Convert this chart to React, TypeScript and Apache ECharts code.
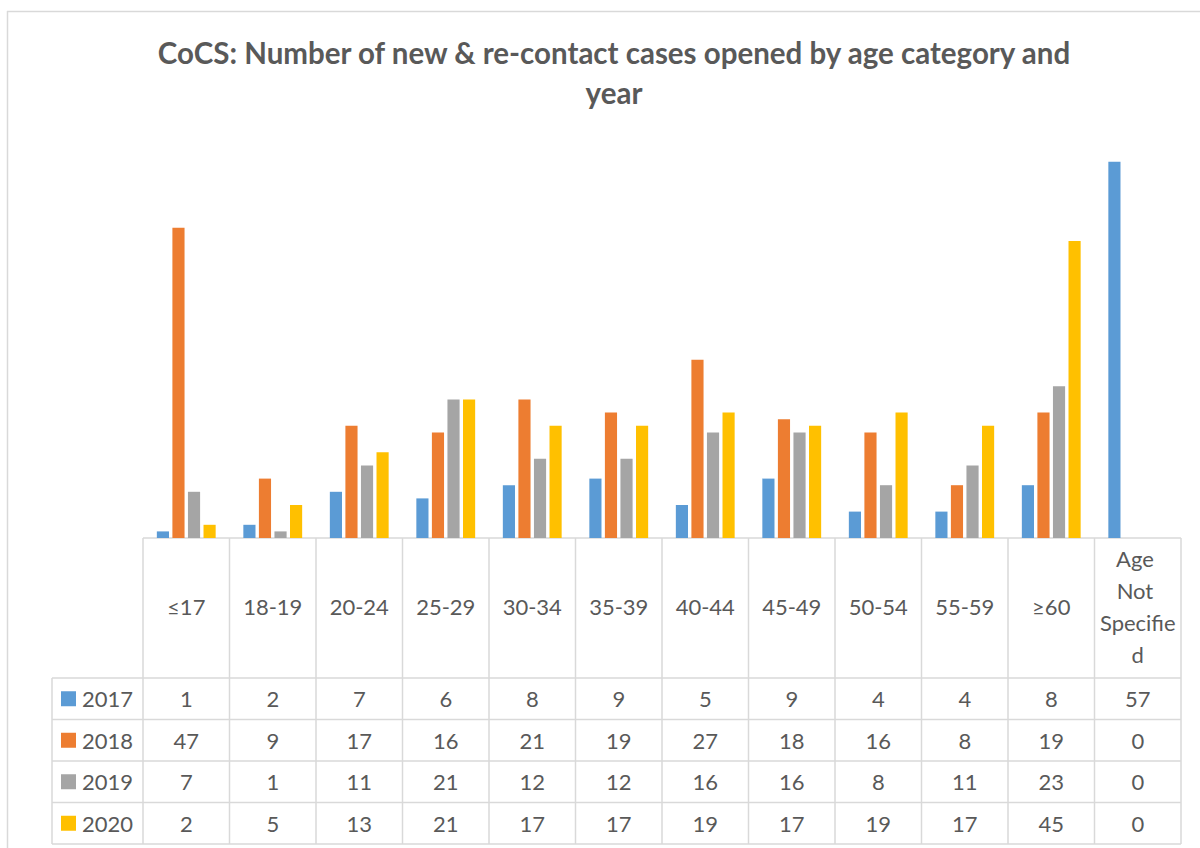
import React, { useEffect, useRef } from "react";
import * as echarts from "echarts";

const categories = ["≤17", "18-19", "20-24", "25-29", "30-34", "35-39", "40-44", "45-49", "50-54", "55-59", "≥60", "Age Not Specified"];
const seriesNames = ["2017", "2018", "2019", "2020"];
const v2017 = [1, 2, 7, 6, 8, 9, 5, 9, 4, 4, 8, 57];
const v2018 = [47, 9, 17, 16, 21, 19, 27, 18, 16, 8, 19, 0];
const v2019 = [7, 1, 11, 21, 12, 12, 16, 16, 8, 11, 23, 0];
const v2020 = [2, 5, 13, 21, 17, 17, 19, 17, 19, 17, 45, 0];
const colors = ["#5b9bd5", "#ed7d31", "#a5a5a5", "#ffc000"];
const titleText = "CoCS: Number of new & re-contact cases opened by age category and\nyear";

const FONT = "Lato, 'Open Sans', sans-serif";
const TXT = "#595959";
const BORDER = "#d9d9d9";

export default function App() {
  const ref = useRef<HTMLDivElement>(null);
  useEffect(() => {
    if (!ref.current) return;
    const chart = echarts.init(ref.current, null, { renderer: "svg" });
    const values = [v2017, v2018, v2019, v2020];

    const plotLeft = 143;
    const plotRight = 1181;
    const baseY = 538;
    const headerBottom = 678;
    const rowH = 41.5;
    const legendLeft = 52;
    const colW = (plotRight - plotLeft) / categories.length;
    const tableBottom = headerBottom + rowH * 4;

    const g: any[] = [];
    const ln = (x1: number, y1: number, x2: number, y2: number) =>
      g.push({ type: "line", silent: true, shape: { x1, y1, x2, y2 }, style: { stroke: BORDER, lineWidth: 1.5 } });

    // outer chart border
    ln(7.5, 11, 7.5, 860);
    ln(7, 11.5, 1210, 11.5);

    // table lines
    ln(plotLeft, baseY, plotRight, baseY);
    for (let r = 0; r <= 4; r++) {
      const y = headerBottom + r * rowH;
      ln(legendLeft, y, plotRight, y);
    }
    for (let c = 0; c <= categories.length; c++) {
      const x = plotLeft + c * colW;
      ln(x, baseY, x, tableBottom);
    }
    ln(legendLeft, headerBottom, legendLeft, tableBottom);

    // header
    categories.forEach((cat, c) => {
      g.push({
        type: "text",
        silent: true,
        x: plotLeft + c * colW + colW / 2,
        y: (baseY + headerBottom) / 2 - 2,
        style: {
          text: cat,
          fill: TXT,
          font: `22px ${FONT}`,
          align: "center",
          verticalAlign: "middle",
          width: 78,
          overflow: "break",
          lineHeight: 32,
        },
      });
    });

    // rows
    seriesNames.forEach((name, r) => {
      const cy = headerBottom + r * rowH + rowH / 2;
      g.push({ type: "rect", silent: true, shape: { x: 61, y: cy - 7.5, width: 15, height: 15 }, style: { fill: colors[r] } });
      g.push({
        type: "text",
        silent: true,
        x: 82,
        y: cy,
        style: { text: name, fill: TXT, font: `22px ${FONT}`, align: "left", verticalAlign: "middle" },
      });
      values[r].forEach((v, c) => {
        g.push({
          type: "text",
          silent: true,
          x: plotLeft + c * colW + colW / 2,
          y: cy,
          style: { text: String(v), fill: TXT, font: `22px ${FONT}`, align: "center", verticalAlign: "middle" },
        });
      });
    });

    chart.setOption({
      animation: false,
      backgroundColor: "#ffffff",
      title: {
        text: titleText,
        left: 609,
        textAlign: "center",
        top: 27,
        textStyle: { color: TXT, fontSize: 29.5, fontWeight: "bold", fontFamily: FONT, lineHeight: 40 },
      },
      grid: { left: plotLeft, right: 1200 - plotRight, top: 142, bottom: 848 - baseY, containLabel: false },
      xAxis: {
        type: "category",
        data: categories,
        axisLine: { show: false },
        axisTick: { show: false },
        axisLabel: { show: false },
      },
      yAxis: {
        type: "value",
        min: 0,
        max: 60,
        show: false,
        splitLine: { show: false },
      },
      series: seriesNames.map((name, i) => ({
        name,
        type: "bar",
        data: values[i],
        itemStyle: { color: colors[i] },
        barGap: "28%",
        barCategoryGap: "32%",
      })),
      graphic: g,
    });
    return () => chart.dispose();
  }, []);
  return <div ref={ref} style={{ position: "fixed", left: 0, top: 0, width: 1200, height: 848 }} />;
}
